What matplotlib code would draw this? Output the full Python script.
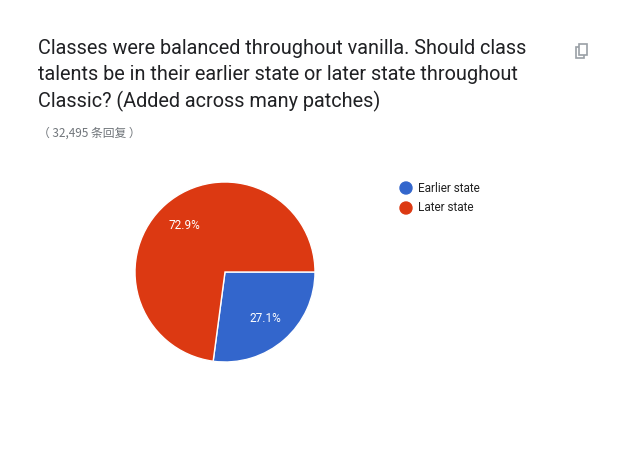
import matplotlib
matplotlib.use("Agg")
import matplotlib.pyplot as plt
from matplotlib.patches import Rectangle, Ellipse

categories = ["Earlier state", "Later state"]
values = [27.1, 72.9]
colors = ["#3366cc", "#dc3912"]

W, H = 633, 458
fig = plt.figure(figsize=(W/100, H/100), dpi=100)
fig.patch.set_facecolor("white")
plt.rcParams['font.family'] = ['Roboto', 'Noto Sans CJK SC', 'DejaVu Sans']

def fx(x): return x / W
def fy(y): return 1 - y / H

title = ["Classes were balanced throughout vanilla. Should class",
         "talents be in their earlier state or later state throughout",
         "Classic? (Added across many patches)"]
for i, t in enumerate(title):
    fig.text(fx(38), fy(48 + i*26.5), t, fontsize=14.3, color="#202124", va="center")
fig.text(fx(38), fy(133), "（ 32,495 条回复 ）", fontsize=8.5, color="#70757a", va="center",
         family=['Noto Sans CJK SC', 'DejaVu Sans'])

# copy icon
fig.add_artist(Rectangle((fx(576), fy(58)), 8/W, 11/H, fill=False, ec="#9aa0a6", lw=1.2, transform=fig.transFigure))
fig.add_artist(Rectangle((fx(579), fy(55)), 8/W, 11/H, fc="white", ec="#9aa0a6", lw=1.2, transform=fig.transFigure))

cx, cy, r = 225, 272, 90
ax = fig.add_axes([fx(cx - r), fy(cy + r), 2*r/W, 2*r/H])
wedges, _, autotexts = ax.pie(values, colors=colors, startangle=0, counterclock=False,
                              autopct="%.1f%%", pctdistance=0.68,
                              wedgeprops=dict(edgecolor="white", linewidth=1),
                              textprops=dict(color="white", fontsize=8.5))
ax.set_xlim(-1, 1)
ax.set_ylim(-1, 1)
ax.set_aspect("equal")

for i in range(len(categories)):
    y = 188 + i*20
    fig.text(fx(418), fy(y), categories[i], fontsize=8.5, color="#222222", va="center")
    fig.add_artist(Ellipse((fx(406), fy(y)), 12/W, 12/H, color=colors[i], transform=fig.transFigure))

fig.savefig("out.png", dpi=100)
